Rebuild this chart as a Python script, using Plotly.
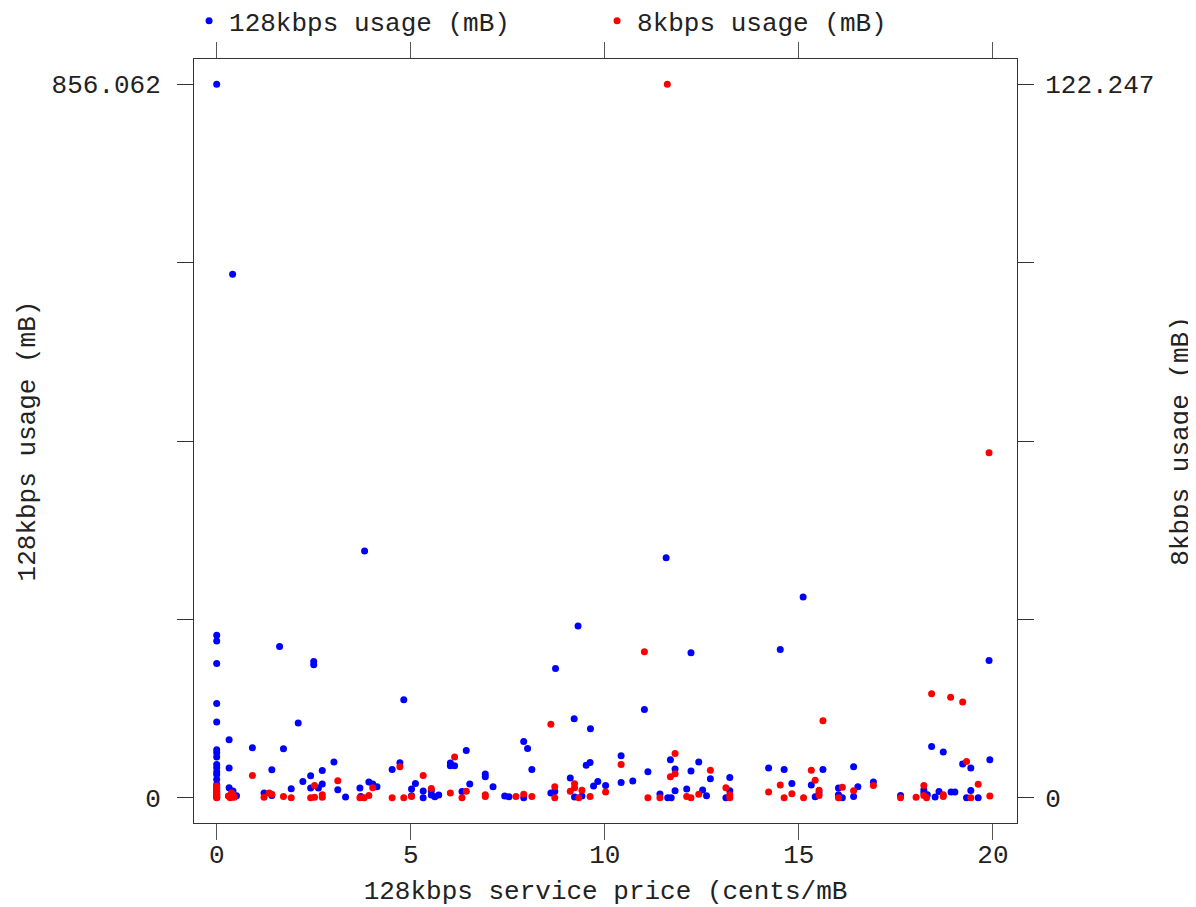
import plotly.graph_objects as go

# 128kbps usage (left axis)
blue_x = [0, 0, 0, 0, 0, 0, 0, 0, 0, 0, 0, 0, 0, 0, 0, 0, 0, 0, 0,
          0.41, 0.32, 0.32, 0.32, 0.42, 0.51, 0.92, 1.72, 1.62, 1.42, 1.22, 1.42, 1.92,
          2.1, 2.22, 2.42, 2.42, 2.5, 2.5, 2.62, 2.72, 2.72, 3.02, 3.12, 3.32, 3.69, 3.71,
          3.81, 3.92, 4.02, 4.13, 4.52, 4.72, 4.82, 5.02, 5.02, 5.12, 5.32, 5.32, 5.53,
          5.53, 5.62, 5.72, 6.02, 6.02, 6.13, 6.43, 6.32, 6.52, 6.92, 6.92, 7.12, 7.42,
          7.53, 7.91, 7.91, 8.01, 8.12, 8.61, 8.71, 8.73, 9.11, 9.21, 9.22, 9.31, 9.41,
          9.52, 9.62, 9.63, 9.71, 9.82, 10.02, 10.42, 10.42, 10.72, 11.02, 11.11, 11.42,
          11.58, 11.62, 11.71, 11.69, 11.81, 11.81, 12.11, 12.22, 12.22, 12.42, 12.52,
          12.62, 12.72, 13.22, 13.22, 13.12, 14.22, 14.52, 14.62, 14.82, 15.11, 15.32,
          15.42, 15.52, 15.62, 16.02, 16.02, 16.12, 16.41, 16.52, 16.41, 16.92, 17.62,
          18.22, 18.22, 18.31, 18.42, 18.72, 18.61, 18.51, 18.92, 19.02, 19.22, 19.43,
          19.43, 19.32, 19.62, 19.92, 19.9]
blue_y = [856.062, 195, 188, 161, 113, 91, 57.6, 54, 49, 40, 36, 31, 28, 22, 16, 12, 7, 4, 1,
          628, 69.5, 35.6, 12, 8, 2.4, 60, 58.8, 181.4, 33.6, 5.6, 2.8, 10.8,
          89.6, 19.5, 26.4, 11.6, 163.4, 159.5, 11.6, 32.7, 16.4, 42.8, 9.6, 0.8, 11.6, 1.6,
          296, 18.8, 16.4, 13.2, 34, 42, 117.5, 10.4, 2.4, 17.2, 8, 0, 8.4,
          3.2, 1.2, 3.2, 41.6, 38.4, 38.4, 56.7, 7.6, 16.4, 28.4, 25.2, 13.2, 2,
          1.2, 0, 67.5, 59, 34, 5.6, 7.6, 155, 23.6, 94.7, 0.8, 206, 2,
          39, 42.3, 82.7, 14, 19.5, 14.8, 50.4, 18.4, 20, 106, 31.2, 4.4,
          288, 0, 0, 45.6, 34.4, 8.4, 10.4, 32, 174, 42.8, 9.2,
          2.4, 22.8, 24.4, 8.4, 0, 35.6, 178, 34, 17.2, 241, 15.2,
          1.2, 6, 34, 11.6, 3.6, 0, 37.2, 13.2, 1.6, 18.8, 2.8,
          9.2, 5.6, 3.6, 61.5, 55, 7.6, 0.8, 6.8, 6.8, 40.4, 35.6,
          8.8, 0, 0, 45.6, 164.6]

# 8kbps usage (right axis)
red_x = [0, 0, 0, 0, 0, 0, 0, 0, 0,
         0.3, 0.35, 0.42, 0.45, 0.38, 0.92, 1.22, 1.35, 1.42, 1.72, 1.92, 2.42, 2.52, 2.52,
         2.72, 2.72, 3.12, 3.69, 3.8, 3.92, 4.02, 4.52, 4.72, 4.82, 5.02, 5.32, 5.53, 6.02,
         6.13, 6.32, 6.43, 6.92, 6.92, 7.71, 7.91, 8.12, 8.61, 8.71, 8.71, 9.11, 9.22, 9.22,
         9.33, 9.41, 9.62, 10.02, 10.42, 11.02, 11.11, 11.42, 11.61, 11.69, 11.81, 11.81,
         12.11, 12.22, 12.42, 12.72, 13.12, 13.22, 13.22, 14.22, 14.52, 14.62, 14.82, 15.12,
         15.32, 15.42, 15.52, 15.52, 15.62, 16.02, 16.12, 16.41, 16.92, 17.62, 18.02, 18.22,
         18.22, 18.29, 18.42, 18.72, 18.72, 18.91, 19.22, 19.32, 19.43, 19.62, 19.9, 19.92]
red_y = [0, 0.2, 0.4, 0.6, 0.9, 1.2, 1.5, 2.0, 0.1,
         0.3, 0, 0.5, 0.1, 0.8, 3.8, 0.1, 0.8, 0.6, 0.2, 0, 0, 2.1, 0.1,
         0.5, 0.1, 2.9, 0, 0, 0.4, 1.7, 0, 5.3, 0, 0.2, 3.8, 1.6, 0.8,
         7.0, 0, 1.1, 0.5, 0.2, 0.2, 0.6, 0.2, 12.6, 1.9, 0, 1.1, 2.4, 1.7,
         0, 1.3, 0.2, 1.0, 5.7, 25, 0, 0, 122.247, 3.6, 7.6, 4.1,
         0.2, 0, 0.6, 4.7, 1.7, 0.5, 0, 1.0, 2.2, 0, 0.7, 0,
         4.7, 3.0, 1.3, 0.4, 13.2, 0, 1.8, 1.2, 2.1, 0, 0.1, 2.1,
         0.4, 0, 17.8, 0.5, 0.2, 17.2, 16.4, 6.2, 0, 2.3, 59.1, 0.3]

left_max = 856.062
right_max = 122.247
x_ticks = [0, 5, 10, 15, 20]

FONT = "Liberation Mono"
TXT = "#222222"
AX = "#333333"
tfont = dict(family=FONT, size=26, color=TXT)

fig = go.Figure()
fig.add_trace(go.Scatter(x=blue_x, y=blue_y, mode="markers", name="128kbps usage (mB)",
                         marker=dict(color="#0000ff", size=7), yaxis="y"))
fig.add_trace(go.Scatter(x=red_x, y=red_y, mode="markers", name="8kbps usage (mB)",
                         marker=dict(color="#ff0000", size=7), yaxis="y2"))

pad_l = 30.3
pad_r = pad_l * right_max / left_max
lt = [0, left_max / 4, left_max / 2, 3 * left_max / 4, left_max]
rt = [0, right_max / 4, right_max / 2, 3 * right_max / 4, right_max]

fig.update_layout(
    width=1188, height=899,
    margin=dict(l=186, r=179, t=51, b=84, autoexpand=False),
    plot_bgcolor="white", paper_bgcolor="white",
    font=tfont,
    showlegend=True,
    legend=dict(orientation="h", x=-0.006, y=1.05, xanchor="left", yanchor="middle",
                entrywidth=363, entrywidthmode="pixels",
                font=tfont, itemsizing="trace", bgcolor="rgba(0,0,0,0)"),
    xaxis=dict(range=[-0.585, 20.62], tickvals=x_ticks, ticks="outside", ticklen=16,
               tickcolor="#555555", showgrid=False, zeroline=False, showline=True,
               linecolor=AX, linewidth=1, mirror="ticks", automargin=False,
               tickfont=tfont,
               title=dict(text="128kbps service price (cents/mB", standoff=11, font=tfont),
               ticklabelstandoff=-8),
    yaxis=dict(range=[-pad_l, left_max + pad_l], tickvals=lt,
               ticktext=["0", "", "", "", "856.062"], ticks="outside", ticklen=16,
               tickcolor=AX, showgrid=False, zeroline=False, showline=True,
               linecolor=AX, linewidth=1, ticklabelstandoff=11, automargin=False,
               tickfont=tfont,
               title=dict(text="128kbps usage (mB)", standoff=8, font=tfont)),
    yaxis2=dict(range=[-pad_r, right_max + pad_r], tickvals=rt,
                ticktext=["0", "", "", "", "122.247"], ticks="outside", ticklen=16,
                tickcolor=AX, showgrid=False, zeroline=False, showline=True,
                linecolor=AX, linewidth=1, overlaying="y", side="right",
                ticklabelstandoff=6, automargin=False, tickfont=tfont,
                title=dict(text="8kbps usage (mB)", standoff=19, font=tfont)),
)

fig.write_html("out.html")
